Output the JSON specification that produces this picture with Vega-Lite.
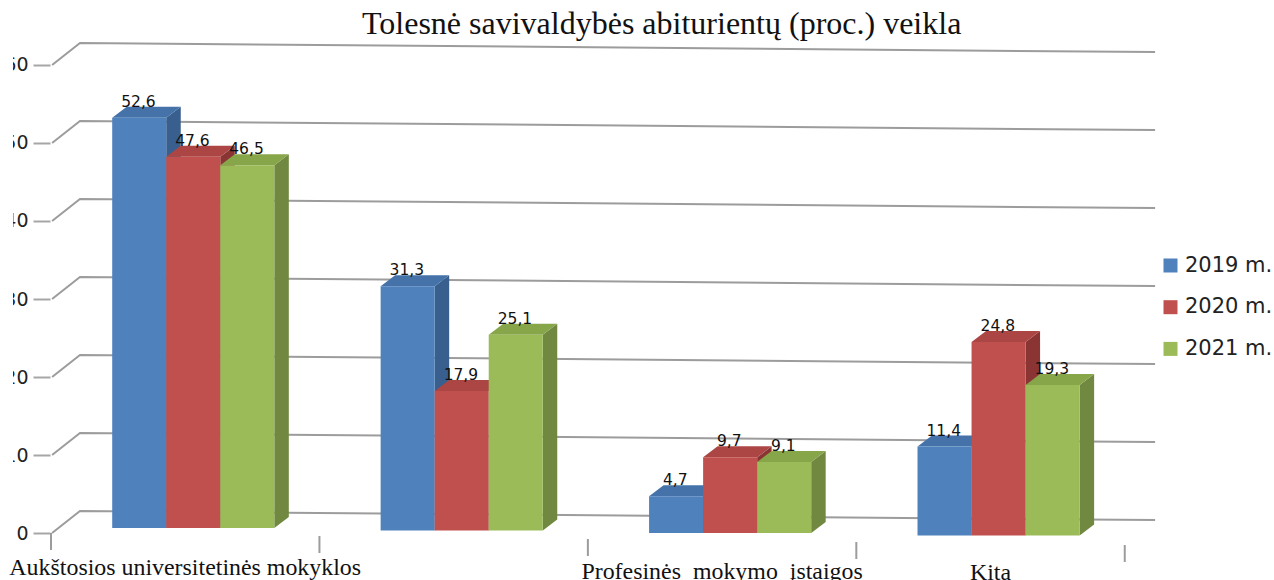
{
"$schema":"https://vega.github.io/schema/vega-lite/v6.json",
"width":1274,"height":580,"padding":0,"autosize":"none","background":"white",
"title":{"text":"Tolesnė savivaldybės abiturientų (proc.) veikla","font":"Liberation Serif","fontSize":32,"fontWeight":"normal","color":"#111111","anchor":"start","dx":362,"offset":-66,"baseline":"alphabetic"},
"config":{"view":{"stroke":null}},
"datasets":{
"veikla":[
{"kategorija":"Aukštosios universitetinės mokyklos","metai":"2019 m.","reiksme":52.6},
{"kategorija":"Aukštosios universitetinės mokyklos","metai":"2020 m.","reiksme":47.6},
{"kategorija":"Aukštosios universitetinės mokyklos","metai":"2021 m.","reiksme":46.5},
{"kategorija":"","metai":"2019 m.","reiksme":31.3},
{"kategorija":"","metai":"2020 m.","reiksme":17.9},
{"kategorija":"","metai":"2021 m.","reiksme":25.1},
{"kategorija":"Profesinės mokymo įstaigos","metai":"2019 m.","reiksme":4.7},
{"kategorija":"Profesinės mokymo įstaigos","metai":"2020 m.","reiksme":9.7},
{"kategorija":"Profesinės mokymo įstaigos","metai":"2021 m.","reiksme":9.1},
{"kategorija":"Kita","metai":"2019 m.","reiksme":11.4},
{"kategorija":"Kita","metai":"2020 m.","reiksme":24.8},
{"kategorija":"Kita","metai":"2021 m.","reiksme":19.3}
],
"linijos":[{"t":0},{"t":10},{"t":20},{"t":30},{"t":40},{"t":50},{"t":60}],
"kategorijos":[{"pavadinimas":"Aukštosios universitetinės mokyklos","c":0},{"pavadinimas":"","c":1},{"pavadinimas":"Profesinės\u00a0\u00a0mokymo\u00a0\u00a0įstaigos","c":2},{"pavadinimas":"Kita","c":3},{"pavadinimas":"","c":4}]
},
"layer":[
{"data":{"name":"linijos"},
 "transform":[
  {"calculate":"[0.004,0.108,4.113]","as":"vx"},
  {"calculate":"[datum.t,datum.t+2.82,datum.t+1.66]","as":"vy"},
  {"flatten":["vx","vy"]}
 ],
 "mark":{"type":"line","stroke":"#9c9c9c","strokeWidth":2},
 "encoding":{
  "x":{"field":"vx","type":"quantitative","scale":{"domain":[-0.19,4.556],"nice":false,"zero":false},"axis":null},
  "y":{"field":"vy","type":"quantitative","scale":{"domain":[-6.0256,68.3333],"nice":false,"zero":false},
   "axis":{"values":[0,10,20,30,40,50,60],"orient":"left","offset":-50,"domain":false,"grid":false,"title":null,"tickSize":17,"tickColor":"#a6a6a6","tickWidth":2,"labelFont":"DejaVu Sans","labelFontSize":19,"labelColor":"#222222","labelPadding":5}},
  "detail":{"field":"t"}
 }},
{"data":{"name":"kategorijos"},
 "transform":[{"calculate":"-0.385*datum.c","as":"y1"},{"calculate":"datum.y1-2.18","as":"y2"}],
 "mark":{"type":"rule","stroke":"#9c9c9c","strokeWidth":2},
 "encoding":{
  "x":{"field":"c","type":"quantitative","scale":{"domain":[-0.19,4.556],"nice":false,"zero":false},"axis":null},
  "y":{"field":"y1","type":"quantitative","scale":{"domain":[-6.0256,68.3333],"nice":false,"zero":false}},
  "y2":{"field":"y2"}
 }},
{"data":{"name":"veikla"},
 "transform":[
  {"calculate":"indexof(['Aukštosios universitetinės mokyklos','','Profesinės mokymo įstaigos','Kita'],datum.kategorija)","as":"c"},
  {"calculate":"indexof(['2019 m.','2020 m.','2021 m.'],datum.metai)","as":"s"},
  {"calculate":"0.64-0.32*datum.c","as":"b"},
  {"calculate":"datum.b+datum.reiksme","as":"top"},
  {"calculate":"datum.c+0.228+datum.s*0.2013","as":"x0"},
  {"calculate":"datum.x0+0.2013","as":"x1"},
  {"calculate":"['sonas','sonas','virsus','virsus','virsus','virsus']","as":"veidas"},
  {"calculate":"[datum.x1,datum.x1+0.054,datum.x0,datum.x0+0.054,datum.x1,datum.x1+0.054]","as":"vx"},
  {"calculate":"[datum.top,datum.top+1.41,datum.top,datum.top+1.41,datum.top+1.41,datum.top+1.41]","as":"vy"},
  {"calculate":"[datum.b,datum.b+1.41,datum.top,datum.top,datum.top,datum.top+1.41]","as":"vy2"},
  {"flatten":["veidas","vx","vy","vy2"]},
  {"calculate":"datum.metai+' '+datum.veidas","as":"plokstuma"}
 ],
 "mark":{"type":"area","interpolate":"linear","opacity":1},
 "encoding":{
  "x":{"field":"vx","type":"quantitative","scale":{"domain":[-0.19,4.556],"nice":false,"zero":false},"axis":null},
  "y":{"field":"vy","type":"quantitative","scale":{"domain":[-6.0256,68.3333],"nice":false,"zero":false}},
  "y2":{"field":"vy2"},
  "fill":{"field":"plokstuma","type":"nominal","legend":null,"scale":{"domain":["2019 m. sonas","2019 m. virsus","2020 m. sonas","2020 m. virsus","2021 m. sonas","2021 m. virsus"],"range":["#385F8E","#4573A9","#8A3533","#AB4644","#70883F","#87A549"]}},
  "detail":{"field":"c"}
 }},
{"data":{"name":"veikla"},
 "transform":[
  {"calculate":"indexof(['Aukštosios universitetinės mokyklos','','Profesinės mokymo įstaigos','Kita'],datum.kategorija)","as":"c"},
  {"calculate":"indexof(['2019 m.','2020 m.','2021 m.'],datum.metai)","as":"s"},
  {"calculate":"0.64-0.32*datum.c","as":"b"},
  {"calculate":"datum.b+datum.reiksme","as":"top"},
  {"calculate":"datum.c+0.228+datum.s*0.2013","as":"x0"},
  {"calculate":"datum.x0+0.2013","as":"x1"}
 ],
 "mark":{"type":"rect"},
 "encoding":{
  "x":{"field":"x0","type":"quantitative","scale":{"domain":[-0.19,4.556],"nice":false,"zero":false},"axis":null},
  "x2":{"field":"x1"},
  "y":{"field":"b","type":"quantitative","scale":{"domain":[-6.0256,68.3333],"nice":false,"zero":false}},
  "y2":{"field":"top"},
  "color":{"field":"metai","type":"nominal","scale":{"domain":["2019 m.","2020 m.","2021 m."],"range":["#4F81BD","#C0504D","#9BBB59"]},
   "legend":{"orient":"none","legendX":1160,"legendY":255,"title":null,"symbolType":"square","symbolSize":196,"symbolStrokeWidth":0,"labelFont":"DejaVu Sans","labelFontSize":21,"labelColor":"#222222","labelOffset":4,"rowPadding":19.7}}
 }},
{"data":{"values":[{}]},
 "mark":{"type":"rect","fill":"white"},
 "encoding":{
  "x":{"datum":-0.19,"type":"quantitative","scale":{"domain":[-0.19,4.556],"nice":false,"zero":false},"axis":null},
  "x2":{"datum":-0.1416}
 }},
{"data":{"name":"veikla"},
 "transform":[
  {"calculate":"indexof(['Aukštosios universitetinės mokyklos','','Profesinės mokymo įstaigos','Kita'],datum.kategorija)","as":"c"},
  {"calculate":"indexof(['2019 m.','2020 m.','2021 m.'],datum.metai)","as":"s"},
  {"calculate":"0.64-0.32*datum.c+datum.reiksme","as":"top"},
  {"calculate":"datum.c+0.225+(datum.s+0.5)*0.2013","as":"xc"},
  {"calculate":"replace(format(datum.reiksme,'.1f'),'.',',')","as":"zyme"}
 ],
 "mark":{"type":"text","font":"DejaVu Sans","fontSize":15.5,"color":"#111111","dy":-16,"baseline":"middle","align":"center"},
 "encoding":{
  "x":{"field":"xc","type":"quantitative","scale":{"domain":[-0.19,4.556],"nice":false,"zero":false},"axis":null},
  "y":{"field":"top","type":"quantitative","scale":{"domain":[-6.0256,68.3333],"nice":false,"zero":false}},
  "text":{"field":"zyme"}
 }},
{"data":{"name":"kategorijos"},
 "transform":[{"filter":"datum.pavadinimas!==''"},{"calculate":"datum.c+0.5","as":"xc"},{"calculate":"(533-575-1.8*datum.c)/7.8","as":"yb"}],
 "mark":{"type":"text","font":"Liberation Serif","fontSize":23.9,"color":"#111111","baseline":"alphabetic","align":"center"},
 "encoding":{
  "x":{"field":"xc","type":"quantitative","scale":{"domain":[-0.19,4.556],"nice":false,"zero":false},"axis":null},
  "y":{"field":"yb","type":"quantitative","scale":{"domain":[-6.0256,68.3333],"nice":false,"zero":false}},
  "text":{"field":"pavadinimas"}
 }}
]
}
